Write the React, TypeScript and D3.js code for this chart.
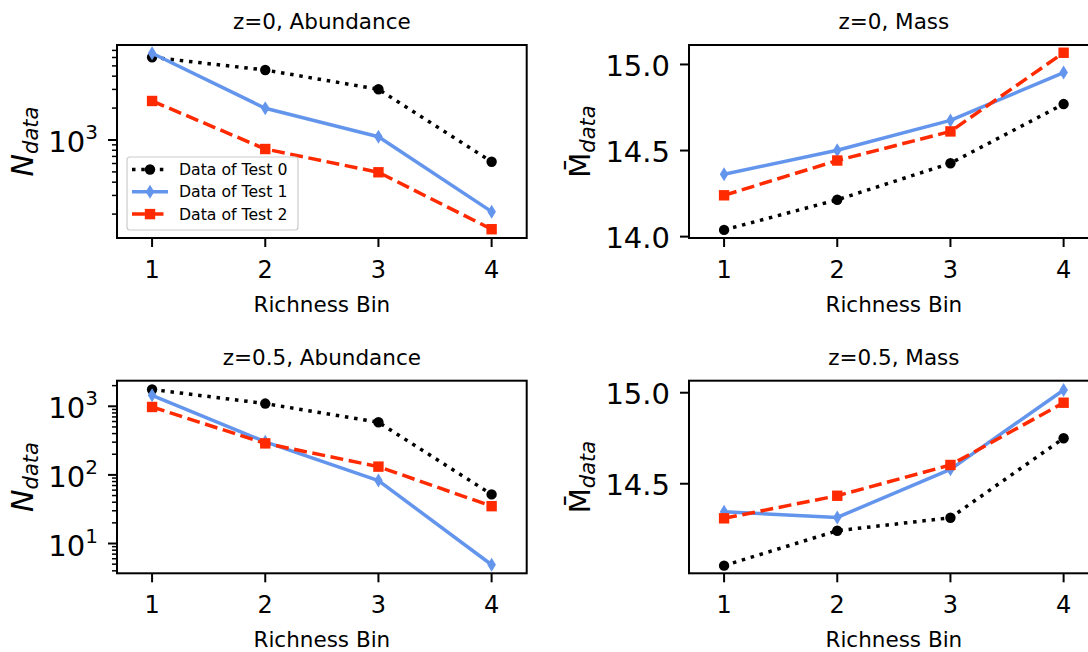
import React from "react";
import * as d3 from "d3";

// ---------- data ----------
const bins = [1, 2, 3, 4];
const xTickValues = [1, 2, 3, 4];
const seriesNames = ["Data of Test 0", "Data of Test 1", "Data of Test 2"];

const abundZ0Test0 = [6030, 4570, 3010, 624];
const abundZ0Test1 = [6580, 1990, 1074, 211];
const abundZ0Test2 = [2333, 822, 496, 144];

const massZ0Test0 = [14.039, 14.214, 14.426, 14.77];
const massZ0Test1 = [14.362, 14.502, 14.675, 14.953];
const massZ0Test2 = [14.24, 14.442, 14.611, 15.068];

const abundZ05Test0 = [1757, 1096, 585, 52];
const abundZ05Test1 = [1447, 303, 82.6, 4.9];
const abundZ05Test2 = [977, 288, 132, 35];

const massZ05Test0 = [14.05, 14.242, 14.313, 14.75];
const massZ05Test1 = [14.346, 14.315, 14.579, 15.015];
const massZ05Test2 = [14.31, 14.434, 14.603, 14.945];

const logTicksTop = [1000];
const logTicksBottom = [10, 100, 1000];
const massTicksTop = [14.0, 14.5, 15.0];
const massTicksBottom = [14.5, 15.0];

const titles = ["z=0, Abundance", "z=0, Mass", "z=0.5, Abundance", "z=0.5, Mass"];
const xLabel = "Richness Bin";

// ---------- styles ----------
const FONT = "DejaVu Sans";
const BLACK = "#000000";
const BLUE = "#6495ed";
const RED = "#ff2a00";
const LW = 3.5;
const styles = [
  { color: BLACK, dash: `${LW * 1},${LW * 1.65}`, marker: "circle" },
  { color: BLUE, dash: null, marker: "diamond" },
  { color: RED, dash: `${LW * 3.7},${LW * 1.6}`, marker: "square" },
];

type Frame = { x0: number; y0: number; x1: number; y1: number };

function Marker({ kind, x, y, color }: { kind: string; x: number; y: number; color: string }) {
  if (kind === "circle") return <circle cx={x} cy={y} r={5.2} fill={color} />;
  if (kind === "square") return <rect x={x - 5.2} y={y - 5.2} width={10.4} height={10.4} fill={color} />;
  const h = 7, w = 4.3;
  return <path d={`M${x},${y - h}L${x + w},${y}L${x},${y + h}L${x - w},${y}Z`} fill={color} />;
}

function minorLogTicks(lo: number, hi: number) {
  const out: number[] = [];
  for (let e = Math.floor(Math.log10(lo)); e <= Math.ceil(Math.log10(hi)); e++) {
    for (let m = 2; m <= 9; m++) {
      const v = m * Math.pow(10, e);
      if (v >= lo && v <= hi) out.push(v);
    }
  }
  return out;
}

function Panel({
  frame, log, domain, data, title, yTicks, ylabel, legend,
}: {
  frame: Frame; log: boolean; domain: [number, number]; data: number[][]; title: string;
  yTicks: number[]; ylabel: "N" | "M"; legend?: boolean;
}) {
  const x = d3.scaleLinear().domain([0.69, 4.31]).range([frame.x0, frame.x1]);
  const y = (log ? d3.scaleLog() : d3.scaleLinear()).domain(domain).range([frame.y1, frame.y0]);
  const line = d3.line<number>().x((_, i) => x(bins[i])).y((v) => y(v));
  const cx = (frame.x0 + frame.x1) / 2;
  const cy = (frame.y0 + frame.y1) / 2;
  const minors = log ? minorLogTicks(domain[0], domain[1]) : [];
  return (
    <g>
      {/* series */}
      {data.map((vals, si) => (
        <g key={si}>
          <path d={line(vals) || ""} fill="none" stroke={styles[si].color} strokeWidth={LW}
            strokeDasharray={styles[si].dash || undefined} strokeLinejoin="round" />
          {vals.map((v, i) => (
            <Marker key={i} kind={styles[si].marker} x={x(bins[i])} y={y(v)} color={styles[si].color} />
          ))}
        </g>
      ))}
      {/* frame */}
      <rect x={frame.x0} y={frame.y0} width={frame.x1 - frame.x0} height={frame.y1 - frame.y0}
        fill="none" stroke="#000" strokeWidth={2} />
      {/* x ticks */}
      {xTickValues.map((t) => (
        <g key={t}>
          <line x1={x(t)} x2={x(t)} y1={frame.y1} y2={frame.y1 + 9} stroke="#000" strokeWidth={2} />
          <text x={x(t)} y={frame.y1 + 40} textAnchor="middle" fontFamily={FONT} fontSize={24}>{t}</text>
        </g>
      ))}
      {/* y ticks */}
      {minors.map((t) => (
        <line key={"m" + t} x1={frame.x0 - 5} x2={frame.x0} y1={y(t)} y2={y(t)} stroke="#000" strokeWidth={1.5} />
      ))}
      {yTicks.map((t) => (
        <g key={t}>
          <line x1={frame.x0 - 9} x2={frame.x0} y1={y(t)} y2={y(t)} stroke="#000" strokeWidth={2} />
          {log ? (
            <text x={frame.x0 - 19} y={y(t) + 12} textAnchor="end" fontFamily={FONT} fontSize={29}>
              10<tspan fontSize={20} dy={-13}>{Math.round(Math.log10(t))}</tspan>
            </text>
          ) : (
            <text x={frame.x0 - 19} y={y(t) + 11.5} textAnchor="end" fontFamily={FONT} fontSize={29}>
              {t.toFixed(1)}
            </text>
          )}
        </g>
      ))}
      {/* title & labels */}
      <text x={cx} y={frame.y0 - 15.7} textAnchor="middle" fontFamily={FONT} fontSize={21.5}>{title}</text>
      <text x={cx} y={frame.y1 + 73.5} textAnchor="middle" fontFamily={FONT} fontSize={21.5}>{xLabel}</text>
      {ylabel === "N" ? (
        <text transform={`translate(${frame.x0 - 84},${cy}) rotate(-90)`} textAnchor="middle" fontFamily={FONT} fontSize={30}>
          <tspan fontStyle="italic">N</tspan>
          <tspan fontStyle="italic" fontSize={21} dy={5}>data</tspan>
        </text>
      ) : (
        <text transform={`translate(${frame.x0 - 99},${cy}) rotate(-90)`} textAnchor="middle" fontFamily={FONT} fontSize={29}>
          <tspan>{"M\u0304"}</tspan>
          <tspan fontStyle="italic" fontSize={21} dy={5}>data</tspan>
        </text>
      )}
      {legend && (
        <g>
          <rect x={frame.x0 + 10} y={157} width={171} height={73} rx={3} fill="#fff" fillOpacity={0.8}
            stroke="#cccccc" strokeWidth={1.2} />
          {seriesNames.map((name, si) => {
            const ry = 169.5 + si * 22.3;
            const hx0 = frame.x0 + 15, hx1 = frame.x0 + 51;
            return (
              <g key={name}>
                <line x1={hx0} x2={hx1} y1={ry} y2={ry} stroke={styles[si].color} strokeWidth={LW}
                  strokeDasharray={styles[si].dash || undefined} />
                <Marker kind={styles[si].marker} x={(hx0 + hx1) / 2} y={ry} color={styles[si].color} />
                <text x={frame.x0 + 62} y={ry + 5.6} fontFamily={FONT} fontSize={15.7}>{name}</text>
              </g>
            );
          })}
        </g>
      )}
    </g>
  );
}

export default function App() {
  const L = { x0: 117, x1: 526.7 };
  const R = { x0: 689, x1: 1098.7 };
  const T = { y0: 45, y1: 238 };
  const B = { y0: 380.7, y1: 573.3 };
  return (
    <svg width={1088} height={652} style={{ position: "absolute", left: 0, top: 0, background: "#fff" }}>
      <rect width={1088} height={652} fill="#fff" />
      <Panel frame={{ ...L, ...T }} log domain={[119, 7870]} title={titles[0]} yTicks={logTicksTop}
        ylabel="N" data={[abundZ0Test0, abundZ0Test1, abundZ0Test2]} legend />
      <Panel frame={{ ...R, ...T }} log={false} domain={[13.992, 15.113]} title={titles[1]} yTicks={massTicksTop}
        ylabel="M" data={[massZ0Test0, massZ0Test1, massZ0Test2]} />
      <Panel frame={{ ...L, ...B }} log domain={[3.68, 2360]} title={titles[2]} yTicks={logTicksBottom}
        ylabel="N" data={[abundZ05Test0, abundZ05Test1, abundZ05Test2]} />
      <Panel frame={{ ...R, ...B }} log={false} domain={[14.008, 15.066]} title={titles[3]} yTicks={massTicksBottom}
        ylabel="M" data={[massZ05Test0, massZ05Test1, massZ05Test2]} />
    </svg>
  );
}
